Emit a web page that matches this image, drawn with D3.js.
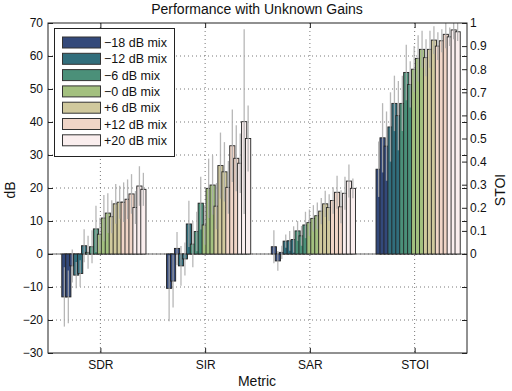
<!DOCTYPE html>
<html><head><meta charset="utf-8">
<script src="https://cdn.jsdelivr.net/npm/d3@7"></script>
<style>body{margin:0;background:#fff}svg{display:block;font-family:"Liberation Sans",Arial,Helvetica,sans-serif}</style>
</head><body><svg id="c" width="512" height="391"></svg>
<script>
const metrics = ["SDR","SIR","SAR","STOI"];
const mixes = ["\u221218 dB mix","\u221212 dB mix","\u22126 dB mix","\u22120 dB mix","+6 dB mix","+12 dB mix","+20 dB mix"];
const mixColors = ["#33497a","#316e7c","#4b9079","#a3c07f","#d0c99d","#f0d5c7","#faeeee"];
// 21 bars per metric: 7 mixes x 3 bars
const sdrVals = [-13,-13,-3.6, -6.4,-5.9,2.5, 0.5,2.2,7.6, 6.0,10.9,12.4, 11.3,15.2,15.7, 15.7,16.6,18.2, 14.1,20.6,19.6];
const sirVals = [-10.4,-8.2,1.7, -3.6,-1.5,9.1, 3.0,6.8,15.4, 8.8,19.9,20.9, 14.5,26.8,24.9, 20.2,32.8,29.0, 27.5,40.1,35.0];
const sarVals = [2.2,-2.1,0.5, 3.9,4.0,4.4, 7.0,5.5,8.8, 9.5,10.8,11.6, 13.0,15.2,14.1, 16.2,18.7,14.3, 18.4,22.1,19.9];
const stoiVals = [0.367,0.503,0.467, 0.55,0.652,0.599, 0.652,0.786,0.734, 0.80,0.847,0.886, 0.850,0.886,0.926, 0.90,0.923,0.951, 0.94,0.970,0.962];
const sdrErr = [9,8,5, 4,4,5, 5,5,7, 5,7,6, 5,6,5, 6,6,6, 5,6,5];
const sirErr = [10,8,5, 6,5,7, 7,6,8, 6,9,9, 7,10,9, 8,11,10, 9,28,10];
const sarErr = [5,3,2, 2,3,4, 3,3,4, 4,4,4, 4,4,4, 4,5,5, 5,5,3];
const stoiErr = [0.12,0.15,0.15, 0.15,0.12,0.15, 0.12,0.12,0.1, 0.1,0.1,0.08, 0.08,0.08,0.06, 0.06,0.05,0.06, 0.04,0.04,0.04];
const dbTicks = [-30,-20,-10,0,10,20,30,40,50,60,70];
const stoiTicks = [0,0.1,0.2,0.3,0.4,0.5,0.6,0.7,0.8,0.9,1];

const L=48, R=467, T=23, B=353;
const svg = d3.select("#c");
const x = d3.scaleLinear().domain([0.5,4.5]).range([L,R]);
const y = d3.scaleLinear().domain([-30,70]).range([B,T]);
const yS = d3.scaleLinear().domain([0,1]).range([y(0),T]);
const fmt = v => v<0 ? "\u2212"+Math.abs(v) : String(v);

// grid
const g = svg.append("g");
g.selectAll(".hg").data(dbTicks.filter(d=>d>-30&&d<70)).join("line")
  .attr("x1",L).attr("x2",R).attr("y1",d=>y(d)).attr("y2",d=>y(d))
  .attr("stroke","#555").attr("stroke-dasharray","1,3").attr("stroke-width",0.8);
g.selectAll(".vg").data(d3.range(1,5)).join("line")
  .attr("x1",d=>x(d)).attr("x2",d=>x(d)).attr("y1",T).attr("y2",B)
  .attr("stroke","#555").attr("stroke-dasharray","1,3").attr("stroke-width",0.8);

const all = [
  {vals:sdrVals, err:sdrErr, s:y},
  {vals:sirVals, err:sirErr, s:y},
  {vals:sarVals, err:sarErr, s:y},
  {vals:stoiVals, err:stoiErr, s:yS}
];
const step = 3.95, bw = 5.2, off = 3.5;
const bars = [];
all.forEach((m,mi)=>m.vals.forEach((v,i)=>bars.push({mi, i, v, e:m.err[i], s:m.s})));
const cx = d => x(d.mi+1) + off + (d.i-10)*step;
// baseline
svg.append("line").attr("x1",L).attr("x2",R).attr("y1",y(0)).attr("y2",y(0)).attr("stroke","#666").attr("stroke-width",1);
bars.sort((a,b)=>a.i-b.i);
svg.append("g").selectAll("rect").data(bars).join("rect")
  .attr("x",d=>cx(d)-bw/2).attr("width",bw)
  .attr("y",d=>Math.min(d.s(d.v),d.s(0))).attr("height",d=>Math.abs(d.s(d.v)-d.s(0)))
  .attr("fill",d=>mixColors[Math.floor(d.i/3)]).attr("stroke","#222").attr("stroke-width",0.9);
svg.append("g").selectAll("line").data(bars).join("line")
  .attr("x1",cx).attr("x2",cx)
  .attr("y1",d=>Math.max(T,d.s(d.v+d.e))).attr("y2",d=>Math.min(B,d.s(d.v-d.e)))
  .attr("stroke","#aaa").attr("stroke-width",1.3).attr("stroke-opacity",0.85);

// axes box
svg.append("rect").attr("x",L).attr("y",T).attr("width",R-L).attr("height",B-T).attr("fill","none").attr("stroke","#222").attr("stroke-width",1);
const tk = 5;
const axL = svg.append("g").attr("transform",`translate(${L},0)`).call(d3.axisLeft(y).tickValues(dbTicks).tickSize(-tk).tickFormat(fmt).tickPadding(5));
const axR = svg.append("g").attr("transform",`translate(${R},0)`).call(d3.axisLeft(y).tickValues(dbTicks).tickSize(tk).tickFormat(""));
const axRS = svg.append("g").attr("transform",`translate(${R},0)`).call(d3.axisRight(yS).tickValues(stoiTicks).tickSize(-tk).tickFormat(d3.format("~g")).tickPadding(3));
const axB = svg.append("g").attr("transform",`translate(0,${B})`).call(d3.axisBottom(x).tickValues([1,2,3,4]).tickSize(-tk).tickFormat(d=>metrics[d-1]).tickPadding(7));
const axT = svg.append("g").attr("transform",`translate(0,${T})`).call(d3.axisTop(x).tickValues([1,2,3,4]).tickSize(-tk).tickFormat(""));
[axL,axR,axRS,axB,axT].forEach(a=>{a.select(".domain").remove();a.selectAll("line").attr("stroke","#222");a.selectAll("text").attr("font-size",12).attr("fill","#111").attr("font-family","'Liberation Sans',Arial,sans-serif");});

// labels
svg.append("text").attr("x",257).attr("y",14).attr("text-anchor","middle").attr("font-size",14).attr("fill","#111").text("Performance with Unknown Gains");
svg.append("text").attr("x",257).attr("y",386).attr("text-anchor","middle").attr("font-size",14).attr("fill","#111").text("Metric");
svg.append("text").attr("transform","translate(15,190) rotate(-90)").attr("text-anchor","middle").attr("font-size",14).attr("fill","#111").text("dB");
svg.append("text").attr("transform","translate(505,190) rotate(-90)").attr("text-anchor","middle").attr("font-size",14).attr("fill","#111").text("STOI");

// legend
const lg = svg.append("g");
lg.append("rect").attr("x",54.5).attr("y",28.5).attr("width",120).attr("height",128).attr("fill","#fff").attr("stroke","#222");
mixes.forEach((m,k)=>{
  const cy = 42.5 + k*16.3;
  lg.append("rect").attr("x",62.5).attr("y",cy-5.5).attr("width",38).attr("height",11).attr("fill",mixColors[k]).attr("stroke","#333");
  lg.append("text").attr("x",104).attr("y",cy+4.5).attr("font-size",12.5).attr("fill","#111").text(m);
});
</script></body></html>
